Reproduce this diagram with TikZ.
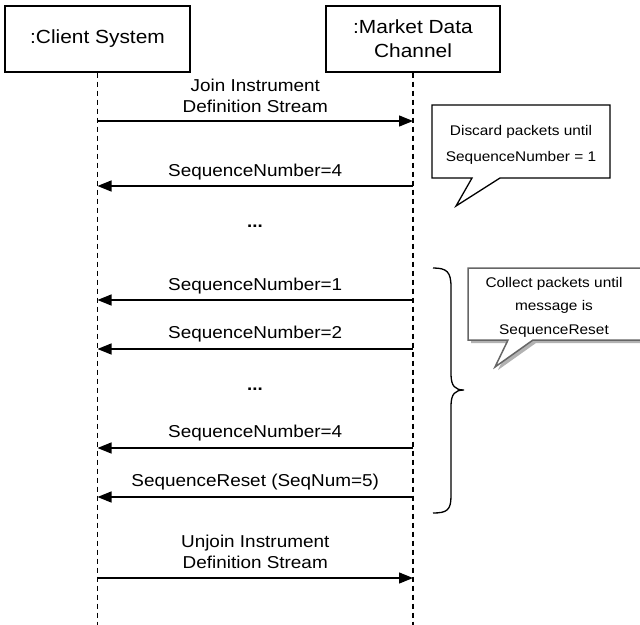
\documentclass[tikz,border=0pt]{standalone}
\usepackage{fontspec}
\setmainfont[FakeStretch=1.1]{Liberation Sans}
\usetikzlibrary{arrows.meta}
\begin{document}
\begin{tikzpicture}[x=1pt,y=-1pt,
  actor/.style={draw, line width=1.3pt, minimum height=66pt, align=center, font=\fontsize{19}{24}\selectfont, inner sep=0pt},
  life/.style={dash pattern=on 5pt off 4pt, line width=1.6pt},
  msg/.style={line width=1.3pt, -{Triangle[length=14pt,width=11pt]}},
  lbl/.style={font=\fontsize{17.2}{21}\selectfont, align=center, inner sep=0pt},
  dots/.style={font=\fontsize{17}{21}\selectfont\bfseries, inner sep=0pt},
  notetext/.style={font=\fontsize{14}{26}\selectfont, align=center, inner sep=0pt},
  notebox/.style={draw, line width=1.3pt, fill=white},
  notebox2/.style={draw=black!60, line width=1.5pt, fill=white},
  noteshadow/.style={fill=black!30},
  bracestyle/.style={line width=1.3pt}]
\useasboundingbox (0,0) rectangle (640,624);

% actors
\node[actor, minimum width=185pt] (client) at (97.5,39) {:Client System};
\node[actor, minimum width=174pt] (market) at (413,39) {:Market Data\\Channel};

% lifelines
\coordinate (cbot) at (97.5,626);
\coordinate (mbot) at (413,626);
\draw[life] (client.south) -- (cbot);
\draw[life] (market.south) -- (mbot);

% message end points
\coordinate (c1) at (97.5,121); \coordinate (m1) at (413,121);
\coordinate (c2) at (97.5,186); \coordinate (m2) at (413,186);
\coordinate (c3) at (97.5,300); \coordinate (m3) at (413,300);
\coordinate (c4) at (97.5,349); \coordinate (m4) at (413,349);
\coordinate (c5) at (97.5,448); \coordinate (m5) at (413,448);
\coordinate (c6) at (97.5,497); \coordinate (m6) at (413,497);
\coordinate (c7) at (97.5,578); \coordinate (m7) at (413,578);

\draw[msg] (c1) -- node[lbl, midway, yshift=25.5pt] (l1) {Join Instrument\\Definition Stream} (m1);
\draw[msg] (m2) -- node[lbl, midway, yshift=14pt] (l2) {SequenceNumber=4} (c2);
\node[dots] (d1) at (255,226) {...};
\draw[msg] (m3) -- node[lbl, midway, yshift=14pt] (l3) {SequenceNumber=1} (c3);
\draw[msg] (m4) -- node[lbl, midway, yshift=15pt] (l4) {SequenceNumber=2} (c4);
\node[dots] (d2) at (255,389) {...};
\draw[msg] (m5) -- node[lbl, midway, yshift=15pt] (l5) {SequenceNumber=4} (c5);
\draw[msg] (m6) -- node[lbl, midway, yshift=15pt] (l6) {SequenceReset (SeqNum=5)} (c6);
\draw[msg] (c7) -- node[lbl, midway, yshift=26pt] (l7) {Unjoin Instrument\\Definition Stream} (m7);

% note 1
\draw[notebox] (432,105) -- (610,105) -- (610,178) -- (500,178) -- (456,206) -- (472,178) -- (432,178) -- cycle;
\node[notetext] (n1) at (521,145) {Discard packets until\\SequenceNumber = 1};

% brace
\draw[bracestyle] (433,268) .. controls (447,268) and (451,272) .. (451,287)
  -- (451,374) .. controls (451,386) and (455,390) .. (464,390)
  .. controls (455,390) and (451,394) .. (451,406)
  -- (451,496) .. controls (451,510) and (447,513) .. (433,513);

% note 2
\fill[noteshadow] (471,271) -- (650,271) -- (650,343) -- (536,343) -- (498,370) -- (511,343) -- (471,343) -- cycle;
\draw[notebox2] (468,268) -- (648,268) -- (648,340) -- (533,340) -- (495,367) -- (508,340) -- (468,340) -- cycle;
\node[notetext, font=\fontsize{14}{23.5}\selectfont] (n2) at (554,307) {Collect packets until\\message is\\SequenceReset};
\end{tikzpicture}
\end{document}
